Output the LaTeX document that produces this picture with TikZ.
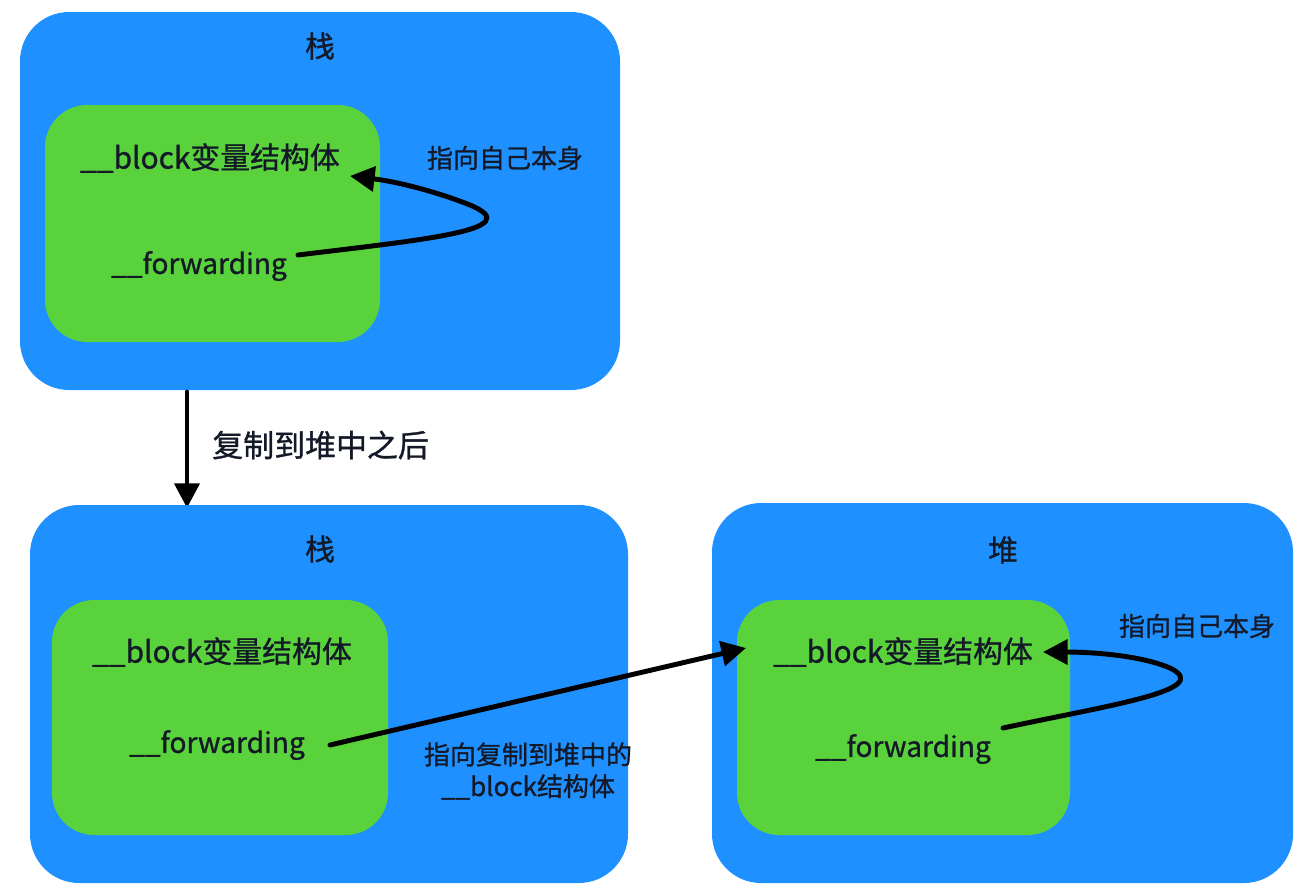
\documentclass[tikz,border=0pt]{standalone}
\usepackage{fontspec}
\setmainfont[FakeBold=1]{Noto Sans CJK SC}
\usetikzlibrary{arrows.meta}
\definecolor{bblue}{RGB}{30,144,255}
\definecolor{bgreen}{RGB}{90,210,60}
\definecolor{txt}{RGB}{20,25,40}
\tikzset{
  outerbox/.style={fill=bblue, rounded corners=28pt},
  innerbox/.style={fill=bgreen, rounded corners=24pt},
  lbl/.style={text=txt, inner sep=0pt, font=\fontsize{17pt}{20pt}\selectfont},
  fwd/.style={text=txt, inner sep=0pt, font=\fontsize{16pt}{19pt}\selectfont},
  title/.style={text=txt, inner sep=0pt, font=\fontsize{17pt}{20pt}\selectfont},
  note/.style={text=txt, inner sep=0pt, font=\fontsize{14.8pt}{18pt}\selectfont, align=center},
  arr/.style={black, line width=2.8pt, line cap=round, -{Triangle[length=14pt,width=14pt]}}
}
\begin{document}
\begin{tikzpicture}[x=0.02cm,y=-0.02cm]
\useasboundingbox (0,0) rectangle (1300,894);
% top stack
\path[outerbox] (20,12) rectangle (620,390);
\path[innerbox] (45,105) rectangle (380,342);
\node[title] (t1) at (320,46) {栈};
\node[lbl] (b1) at (210,158) {\_\_block变量结构体};
\node[fwd] (f1) at (199,266) {\_\_forwarding};
\node[note] (n1) at (505,158) {指向自己本身};
\coordinate (s1) at (298,255);
\coordinate (e1) at (350,176);
\draw[arr] (s1) .. controls (420,240) and (530,230) .. (470,205) .. controls (440,193) and (400,182) .. (e1);
% down arrow
\coordinate (d1) at (187,392);
\coordinate (d2) at (187,508);
\draw[arr] (d1) -- (d2);
\node[note, font=\fontsize{17.6pt}{20pt}\selectfont, anchor=west] (c1) at (212,445) {复制到堆中之后};
% bottom-left stack
\path[outerbox] (30,505) rectangle (628,883);
\path[innerbox] (52,600) rectangle (388,835);
\node[title] (t2) at (320,549) {栈};
\node[lbl] (b2) at (222,652) {\_\_block变量结构体};
\node[fwd] (f2) at (217,745) {\_\_forwarding};
% heap
\path[outerbox] (712,503) rectangle (1293,883);
\path[innerbox] (737,600) rectangle (1070,835);
\node[title] (t3) at (1003,550) {堆};
\node[lbl] (b3) at (903,652) {\_\_block变量结构体};
\node[fwd] (f3) at (903,749) {\_\_forwarding};
\node[note] (n3) at (1197,626) {指向自己本身};
\coordinate (s3) at (1003,728);
\coordinate (e3) at (1043,652);
\draw[arr] (s3) .. controls (1110,705) and (1215,690) .. (1170,668) .. controls (1140,655) and (1090,652) .. (e3);
% cross arrow
\coordinate (s2) at (330,745);
\coordinate (e2) at (746,648);
\draw[arr] (s2) -- (e2);
\node[note] (n2) at (528,771) {指向复制到堆中的\\\_\_block结构体};
\end{tikzpicture}
\end{document}
